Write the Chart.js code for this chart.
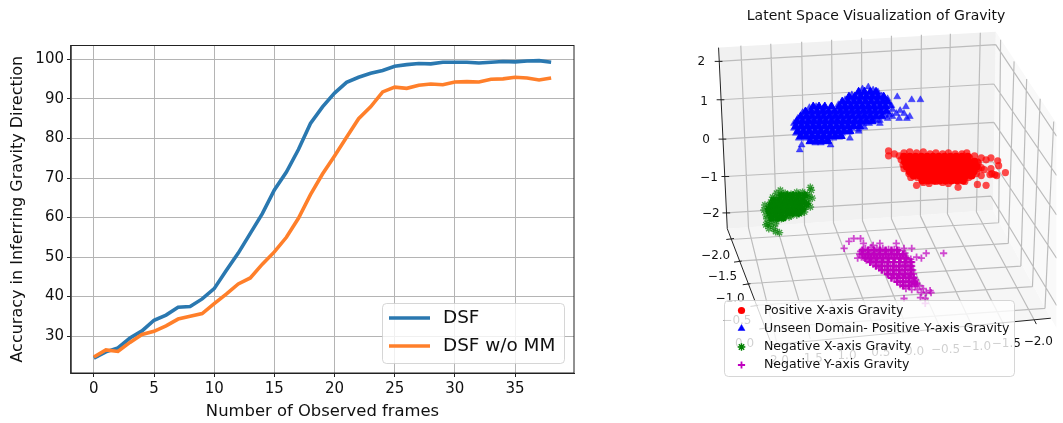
<!DOCTYPE html>
<html>
<head>
<meta charset="utf-8">
<script src="https://cdn.jsdelivr.net/npm/chart.js@4/dist/chart.umd.min.js"></script>
<style>
body { margin: 0; background: #fff; }
canvas { position: absolute; top: 0; }
#curves { left: 0; }
#latent { left: 689px; }
</style>
</head>
<body>
<canvas id="curves" width="600" height="423"></canvas>
<canvas id="latent" width="374" height="423"></canvas>
<script>
// left panel
var frames = [0,1,2,3,4,5,6,7,8,9,10,11,12,13,14,15,16,17,18,19,20,21,22,23,24,25,26,27,28,29,30,31,32,33,34,35,36,37,38];
var dsf = [24.4,26,27,29.5,31.3,34,35.3,37.3,37.5,39.4,42,46.6,51,56,61,67,71.5,77.2,83.8,88,91.5,94.2,95.5,96.5,97.2,98.3,98.7,99,98.9,99.3,99.3,99.3,99.1,99.3,99.5,99.4,99.6,99.7,99.3];
var dsfNoMM = [24.7,26.5,26.1,28.4,30.4,31.2,32.6,34.3,35,35.7,38.2,40.6,43.2,44.7,48.2,51.3,55,59.8,65.8,71,75.6,80.3,85,88,91.8,93,92.7,93.5,93.8,93.6,94.3,94.4,94.3,95,95.1,95.5,95.3,94.8,95.3];
var frameTicks = [0,5,10,15,20,25,30,35];
var accuracyTicks = [30,40,50,60,70,80,90,100];

// right panel, everything is in the projected view plane of the 3D plot
var backWall = [714,48, 1000,32, 997,213, 722,232];
var sideWall = [1000,32, 1063,125, 1063,333, 1057,323, 997,213];
var floorPane = [722,232, 997,213, 1057,323, 768,350];
var gridLines = [
  // back wall, height lines
  713,62, 1000,45,  715,101, 998,85,  717,141, 998,124,  720,179, 997,164,  721,216, 995,199,
  // back wall, upright lines
  736,46, 744,231,  767,44, 773,229,  799,42, 802,228,  830,40, 832,226,  861,38, 862,224,
  892,36, 892,222,  923,35, 922,219,  953,34, 950,217,  984,33, 980,215,
  // floor, going to the front edge
  744,231, 773,347,  773,229, 808,344,  802,228, 842,341,  832,226, 876,338,  862,224, 909,335,
  892,222, 942,332,  922,219, 975,330,  950,217, 1007,327,  980,215, 1040,325,
  // floor, across
  725,243, 1003,226,  733,265, 1013,247,  742,288, 1026,270,  750,310, 1038,291,  759,333, 1051,313,
  // side wall
  1000,45, 1063,138,  998,85, 1063,178,  998,124, 1063,218,  997,164, 1063,262,  995,199, 1063,310,
  1005,40, 1003,226,  1019,62, 1013,247,  1032,80, 1026,270,  1046,100, 1038,291,  1060,123, 1051,313
];
var axisLines = [
  713,48, 722,232,  722,232, 768,350,  768,350, 1057,323,
  709,62, 717,62,  711,101, 719,101,  713,141, 721,141,  716,179, 724,179,  717,216, 725,216,
  721,243, 729,242,  729,266, 737,265,  738,289, 746,288,  746,311, 754,310,  755,334, 763,333,
  1040,325, 1042,329,  1007,327, 1009,331
];
var heightLabels = ["2","1","0","\u22121","\u22122"];
var heightLabelX = [695,698,700,703,705];
var heightLabelY = [62,103,142,180,217];
var depthLabels = ["\u22122.0","\u22121.5","\u22121.0","\u22120.5","0.0"];
var depthLabelX = [710,717,725,732,740];
var depthLabelY = [260,281,303,326,349];
var widthLabels = ["2.0","1.5","1.0","0.5","0.0","\u22120.5","\u22121.0","\u22121.5","\u22122.0"];
var widthLabelX = [776,811,846,881,916,948,980,1011,1044];
var widthLabelY = [366,364,361,358,357,355,352,349,347];

var positiveX = [
  889,153, 889,158, 895,156, 900,158, 905,155, 911,154, 918,155, 925,154, 932,156, 938,155, 945,156, 951,155, 958,156, 965,156, 970,155,
  902,162, 908,160, 914,161, 920,160, 927,161, 933,160, 940,161, 946,160, 953,161, 959,160, 966,161, 973,160, 978,158, 985,160, 990,162,
  904,167, 910,166, 917,166, 923,165, 930,166, 936,165, 943,166, 949,165, 956,166, 962,165, 969,166, 975,165, 981,164, 995,160,
  905,171, 911,171, 918,170, 924,171, 931,170, 937,171, 944,170, 950,171, 957,170, 963,171, 970,170, 976,170, 982,171, 988,172,
  910,176, 916,175, 922,176, 929,175, 935,176, 942,175, 948,176, 955,175, 961,176, 968,175, 974,176, 980,176,
  912,180, 919,180, 926,181, 932,180, 939,181, 945,180, 952,181, 958,180, 965,181, 972,180, 985,178,
  918,188, 925,185, 931,186, 938,184, 945,185, 951,186, 961,190, 968,184, 981,187, 990,188,
  995,171, 996,176, 1001,178, 1002,163, 1003,168, 1010,175, 994,177, 999,177, 982,165, 985,170
];
var positiveXCore = [
  905,159, 911,159, 917,159, 923,159, 929,159, 935,159, 941,159, 947,159, 953,159, 959,159, 965,159, 971,159,
  906,164, 912,164, 918,164, 924,164, 930,164, 936,164, 942,164, 948,164, 954,164, 960,164, 966,164, 972,164, 978,164,
  908,169, 914,169, 920,169, 926,169, 932,169, 938,169, 944,169, 950,169, 956,169, 962,169, 968,169, 974,169, 980,169,
  911,174, 917,174, 923,174, 929,174, 935,174, 941,174, 947,174, 953,174, 959,174, 965,174, 971,174, 977,174,
  915,178, 921,178, 927,178, 933,178, 939,178, 945,178, 951,178, 957,178, 963,178, 969,178, 975,178,
  924,183, 930,183, 936,183, 942,183, 948,183, 954,183, 960,183, 966,183
];
var unseenPositiveY = [
  862,90, 868,88, 873,91, 878,93, 851,96, 857,95, 864,95, 870,96, 876,96, 882,97,
  844,101, 850,100, 856,101, 862,100, 868,101, 874,100, 880,101, 886,102,
  837,106, 843,105, 849,106, 855,105, 861,106, 867,105, 873,106, 879,105, 885,106, 891,107,
  807,109, 814,108, 821,110, 829,108, 836,111, 842,110, 848,111, 854,110, 860,111, 866,110, 872,111, 878,112, 884,112, 893,111,
  800,114, 806,115, 812,114, 818,115, 824,114, 830,115, 836,116, 842,115, 848,116, 854,115, 860,116, 866,115, 872,116, 878,117, 885,117, 890,116,
  795,120, 801,119, 807,120, 813,120, 819,120, 825,120, 831,120, 837,120, 843,121, 849,120, 855,121, 861,120, 867,120, 873,121, 880,122, 888,120,
  791,125, 797,125, 803,125, 809,125, 815,126, 821,125, 827,126, 833,125, 839,126, 845,125, 851,126, 857,125, 863,125, 869,125, 880,125,
  791,130, 797,130, 803,130, 809,130, 815,130, 821,131, 827,130, 833,131, 839,130, 845,131, 851,130, 858,131, 864,129,
  793,135, 799,135, 805,135, 811,136, 817,135, 823,136, 829,135, 835,136, 841,135, 848,134, 858,133,
  796,140, 802,140, 808,140, 814,141, 820,140, 826,141, 832,140, 838,139, 849,140,
  807,144, 813,145, 819,145, 824,144, 829,147, 797,152, 799,147,
  892,107, 888,100, 898,98, 897,115, 905,115, 907,108, 908,120, 911,118, 913,101, 922,101, 901,112, 893,118, 900,120, 876,122
];
var unseenPositiveYCore = [
  858,93, 864,93, 870,93, 876,93,
  848,98, 854,98, 860,98, 866,98, 872,98, 878,98, 884,98,
  841,103, 847,103, 853,103, 859,103, 865,103, 871,103, 877,103, 883,103, 888,103,
  811,108, 817,108, 823,108, 830,108, 838,108, 844,108, 850,108, 856,108, 862,108, 868,108, 874,108, 880,108, 886,108,
  803,113, 809,113, 815,113, 821,113, 827,113, 833,113, 839,113, 845,113, 851,113, 857,113, 863,113, 869,113, 875,113, 881,113, 887,113,
  798,118, 804,118, 810,118, 816,118, 822,118, 828,118, 834,118, 840,118, 846,118, 852,118, 858,118, 864,118, 870,118, 876,118, 882,118,
  794,123, 800,123, 806,123, 812,123, 818,123, 824,123, 830,123, 836,123, 842,123, 848,123, 854,123, 860,123, 866,123, 872,123,
  793,128, 799,128, 805,128, 811,128, 817,128, 823,128, 829,128, 835,128, 841,128, 847,128, 853,128, 859,128,
  795,133, 801,133, 807,133, 813,133, 819,133, 825,133, 831,133, 837,133, 843,133, 849,133,
  798,138, 804,138, 810,138, 816,138, 822,138, 828,138, 834,138, 840,138,
  808,143, 814,143, 820,143, 826,143
];
var negativeX = [
  773,196, 777,193, 782,196, 788,197, 794,195, 800,195, 805,197, 808,190, 809,193,
  769,200, 775,200, 781,200, 786,201, 792,200, 798,200, 804,201, 807,200, 810,201,
  767,205, 772,204, 778,205, 783,205, 789,205, 795,205, 800,205, 806,206,
  761,208, 765,209, 770,209, 776,210, 781,209, 787,210, 792,209, 798,210, 803,210, 808,210,
  760,213, 765,214, 770,214, 775,214, 780,214, 786,215, 791,214, 796,215, 802,215,
  762,218, 767,219, 772,219, 777,219, 783,219, 788,219, 794,218, 799,216,
  763,222, 768,223, 773,223, 778,222, 786,220,
  762,228, 767,228, 772,227, 765,232, 770,232, 776,236, 772,235, 764,227
];
var negativeXCore = [
  778,198, 784,198, 790,198, 796,198, 802,198,
  770,203, 776,203, 782,203, 788,203, 794,203, 800,203,
  768,207, 774,207, 780,207, 786,207, 792,207, 798,207, 804,207,
  765,212, 771,212, 777,212, 783,212, 789,212, 795,212, 800,212,
  766,216, 772,216, 778,216, 784,216, 790,216, 796,216,
  768,221, 774,221, 780,221
];
var negativeY = [
  843,252, 848,245, 853,242, 860,242, 857,262, 863,247, 873,249, 880,247, 897,247, 905,252, 913,252, 928,257, 946,257, 923,262, 918,261,
  860,255, 865,252, 871,251, 877,252, 883,252, 889,253, 895,253, 900,254, 906,257,
  859,258, 864,256, 870,256, 876,256, 882,256, 888,257, 894,257, 900,258, 906,260, 912,263,
  861,261, 866,260, 872,260, 878,260, 884,261, 890,261, 896,262, 902,262, 908,264, 913,266,
  866,264, 871,264, 877,265, 883,265, 889,266, 895,266, 901,266, 907,268, 913,270,
  873,268, 879,269, 885,270, 891,270, 897,271, 903,271, 909,272, 914,274,
  879,272, 885,274, 891,275, 897,275, 903,276, 909,277, 915,278,
  889,279, 895,279, 901,280, 907,281, 913,282, 917,284,
  895,283, 901,285, 907,285, 912,286, 918,288,
  901,289, 906,290, 911,291, 917,290, 921,290, 907,293, 913,294, 919,294, 925,293, 923,297, 928,297, 932,295, 933,297,
  905,303, 922,302, 927,303, 927,308
];
var negativeYCore = [
  862,254, 868,254, 874,254, 880,254, 886,254, 892,254, 898,254,
  862,258, 868,258, 874,258, 880,258, 886,258, 892,258, 898,258, 904,258,
  865,262, 871,262, 877,262, 883,262, 889,262, 895,262, 901,262, 907,262,
  870,266, 876,266, 882,266, 888,266, 894,266, 900,266, 906,266, 912,266,
  876,270, 882,270, 888,270, 894,270, 900,270, 906,270, 912,270,
  882,274, 888,274, 894,274, 900,274, 906,274, 912,274,
  888,278, 894,278, 900,278, 906,278, 912,278,
  892,282, 898,282, 904,282, 910,282, 915,282,
  898,286, 904,286, 910,286, 916,286,
  904,290, 910,290, 916,288
];

function toPoints(flat) {
  var pts = [];
  for (var i = 0; i < flat.length; i += 2) pts.push({x: flat[i], y: flat[i + 1]});
  return pts;
}

function toSegments(flat) {
  var pts = [];
  for (var i = 0; i < flat.length; i += 4) {
    pts.push({x: flat[i], y: flat[i + 1]}, {x: flat[i + 2], y: flat[i + 3]}, {x: NaN, y: NaN});
  }
  return pts;
}

// legend box placed by hand like the original, drawn on top of the plot
var boxLegend = {
  id: 'boxLegend',
  afterDraw: function (chart, args, opts) {
    var ctx = chart.ctx, b = opts.box;
    ctx.save();
    ctx.beginPath();
    ctx.roundRect(b[0], b[1], b[2], b[3], 4);
    ctx.fillStyle = 'rgba(255,255,255,0.8)';
    ctx.fill();
    ctx.strokeStyle = 'rgba(204,204,204,0.8)';
    ctx.lineWidth = 1;
    ctx.stroke();
    ctx.font = opts.font;
    ctx.textBaseline = 'middle';
    opts.rows.forEach(function (row, i) {
      var ds = chart.data.datasets[row];
      var y = opts.y[i];
      if (opts.lines) {
        ctx.strokeStyle = ds.borderColor;
        ctx.lineWidth = ds.borderWidth;
        ctx.beginPath();
        ctx.moveTo(opts.handle[0], y);
        ctx.lineTo(opts.handle[1], y);
        ctx.stroke();
      } else {
        ctx.fillStyle = ds.legendColor;
        ctx.strokeStyle = ds.legendColor;
        ctx.lineWidth = ds.pointBorderWidth;
        Chart.helpers.drawPoint(ctx, {pointStyle: ds.pointStyle, radius: ds.pointRadius, rotation: 0, borderWidth: ds.pointBorderWidth}, opts.handle[0], y);
      }
      ctx.fillStyle = '#111';
      ctx.fillText(ds.label, opts.textX, y);
    });
    ctx.restore();
  }
};

var spines = {
  id: 'spines',
  afterDatasetsDraw: function (chart) {
    var a = chart.chartArea, ctx = chart.ctx;
    ctx.save();
    ctx.strokeStyle = '#222';
    ctx.lineWidth = 1;
    ctx.strokeRect(a.left, a.top, a.right - a.left, a.bottom - a.top);
    ctx.restore();
  }
};

new Chart(document.getElementById('curves'), {
  type: 'line',
  data: {
    labels: frames,
    datasets: [
      {label: 'DSF', data: frames.map(function (f, i) { return {x: f, y: dsf[i]}; }), borderColor: '#2a78b0', borderWidth: 3.6, pointRadius: 0, tension: 0, order: 2},
      {label: 'DSF w/o MM', data: frames.map(function (f, i) { return {x: f, y: dsfNoMM[i]}; }), borderColor: '#ff7f2a', borderWidth: 3.6, pointRadius: 0, tension: 0, order: 1}
    ]
  },
  options: {
    responsive: false,
    animation: false,
    devicePixelRatio: 1,
    layout: {padding: {top: 45.5, right: 26}},
    scales: {
      x: {
        type: 'linear', min: -1.9, max: 39.9,
        afterBuildTicks: function (s) { s.ticks = frameTicks.map(function (v) { return {value: v}; }); },
        afterFit: function (s) { s.height = 50; },
        grid: {color: '#b4b4b4', lineWidth: 1, tickColor: '#222', tickLength: 4},
        border: {color: '#222'},
        ticks: {color: '#111', font: {family: 'DejaVu Sans', size: 15}, padding: 3, maxRotation: 0, autoSkip: false},
        title: {display: true, text: 'Number of Observed frames', color: '#111', font: {family: 'DejaVu Sans', size: 16.4}, padding: {top: 0, bottom: 1}}
      },
      y: {
        min: 20.65, max: 103.54,
        afterBuildTicks: function (s) { s.ticks = accuracyTicks.map(function (v) { return {value: v}; }); },
        afterFit: function (s) { s.width = 71; },
        grid: {color: '#b4b4b4', lineWidth: 1, tickColor: '#222', tickLength: 4},
        border: {color: '#444', width: 1.5},
        ticks: {color: '#111', font: {family: 'DejaVu Sans', size: 15}, padding: 3, autoSkip: false},
        title: {display: true, text: 'Accuracy in Inferring Gravity Direction', color: '#111', font: {family: 'DejaVu Sans', size: 16}, padding: {top: 8, bottom: 0}}
      }
    },
    plugins: {
      legend: {display: false},
      tooltip: {enabled: false},
      boxLegend: {box: [382.5, 303.5, 182, 60], rows: [0, 1], y: [318, 346], handle: [389, 430], textX: 443, font: '18.4px "DejaVu Sans"', lines: true}
    }
  },
  plugins: [spines, boxLegend]
});

// tick labels of the 3D box
var viewLabels = {
  id: 'viewLabels',
  afterDatasetsDraw: function (chart) {
    var ctx = chart.ctx, sx = chart.scales.x, sy = chart.scales.y;
    ctx.save();
    ctx.font = '12px "DejaVu Sans"';
    ctx.fillStyle = '#111';
    ctx.textAlign = 'center';
    ctx.textBaseline = 'middle';
    [[heightLabels, heightLabelX, heightLabelY], [depthLabels, depthLabelX, depthLabelY], [widthLabels, widthLabelX, widthLabelY]].forEach(function (g) {
      g[0].forEach(function (t, i) {
        ctx.fillText(t, sx.getPixelForValue(g[1][i]), sy.getPixelForValue(g[2][i]));
      });
    });
    ctx.restore();
  }
};

function paneSet(data, color) {
  return {data: toPoints(data), showLine: true, fill: 'shape', backgroundColor: color, borderWidth: 0, pointRadius: 0, order: 10};
}

function cloud(label, data, color, solid, style, radius, bw) {
  return {label: label, data: toPoints(data), pointStyle: style, pointRadius: radius, pointBorderWidth: bw, backgroundColor: color, borderColor: color, legendColor: solid, showLine: false, order: 1, clip: false};
}

new Chart(document.getElementById('latent'), {
  type: 'scatter',
  data: {
    datasets: [
      cloud('Positive X-axis Gravity', positiveX, 'rgba(255,0,0,0.7)', '#f00', 'circle', 3.6, 0),
      cloud('Unseen Domain- Positive Y-axis Gravity', unseenPositiveY, 'rgba(0,0,255,0.7)', '#00f', 'triangle', 4, 0.5),
      cloud('Negative X-axis Gravity', negativeX, 'rgba(0,128,0,0.7)', '#008000', 'star', 3.8, 1.4),
      cloud('Negative Y-axis Gravity', negativeY, 'rgba(191,0,191,0.7)', '#bf00bf', 'cross', 3.6, 1.8),
      cloud('', positiveXCore, '#f00', '#f00', 'circle', 4, 0),
      cloud('', unseenPositiveYCore, '#00f', '#00f', 'triangle', 4.6, 1),
      cloud('', negativeXCore, '#008000', '#008000', 'star', 4, 2),
      cloud('', negativeYCore, '#bf00bf', '#bf00bf', 'cross', 3.8, 2.4),
      paneSet(backWall, '#f1f1f1'),
      paneSet(sideWall, '#f9f9f9'),
      paneSet(floorPane, '#f6f6f6'),
      {data: toSegments(gridLines), showLine: true, borderColor: '#bcbcbc', borderWidth: 1.2, pointRadius: 0, spanGaps: false, order: 5},
      {data: toSegments(axisLines), showLine: true, borderColor: '#222', borderWidth: 1, pointRadius: 0, spanGaps: false, order: 4}
    ]
  },
  options: {
    responsive: false,
    animation: false,
    devicePixelRatio: 1,
    scales: {
      x: {type: 'linear', display: false, min: 689, max: 1063},
      y: {type: 'linear', display: false, min: 24, max: 423, reverse: true}
    },
    plugins: {
      legend: {display: false},
      tooltip: {enabled: false},
      title: {display: true, text: 'Latent Space Visualization of Gravity', color: '#111', font: {family: 'DejaVu Sans', size: 14, weight: 'normal', lineHeight: 1}, padding: {top: 9, bottom: 1}},
      boxLegend: {box: [35.5, 300.5, 290, 76], rows: [0, 1, 2, 3], y: [310.5, 328.5, 347, 365], handle: [52.5], textX: 75, font: '12.5px "DejaVu Sans"', lines: false}
    }
  },
  plugins: [viewLabels, boxLegend]
});
</script>
</body>
</html>
